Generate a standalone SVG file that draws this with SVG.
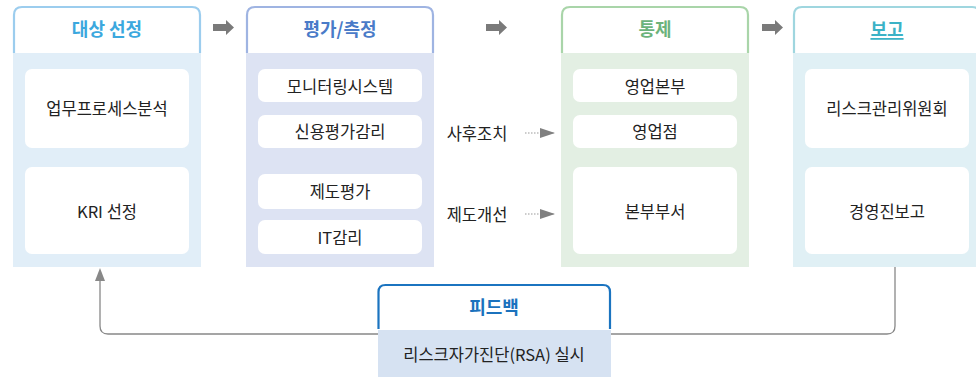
<svg xmlns="http://www.w3.org/2000/svg" width="976" height="377" viewBox="0 0 976 377">
<defs>
<style>
text{font-family:"Noto Sans CJK KR","Noto Sans",sans-serif;}
.item{font-size:16.5px;fill:#222;text-anchor:middle;dominant-baseline:central;}
.hd{font-size:18px;font-weight:bold;text-anchor:middle;dominant-baseline:central;}
.box{fill:#fff;}
.hb{fill:none;stroke-width:2.2;}
.conn{fill:none;stroke:#888;stroke-width:1.3;}
.dot{fill:none;stroke:#999;stroke-width:1.2;stroke-dasharray:1.5 1.5;}
.blk{fill:#7a7a7a;}
</style>
<marker id="tri2" viewBox="0 0 15 10" refX="15" refY="5" markerWidth="15" markerHeight="10" markerUnits="userSpaceOnUse" orient="auto">
<path d="M0,0 L15,5 L0,10 Z" fill="#808080"/>
</marker>
</defs>

<g id="connectors">
<path class="conn" d="M100,281 V326 Q100,334 108,334 H887 Q895,334 895,326 V267"/>
<polygon points="100,268 105,281 95,281" fill="#888"/>
<path class="dot" d="M525,133 H555" marker-end="url(#tri2)"/>
<path class="dot" d="M525,214 H555" marker-end="url(#tri2)"/>
<path class="blk" d="M213,24 H226 V20 L234,27.5 L226,35 V31 H213 Z"/>
<path class="blk" d="M486,24 H499 V20 L507,27.5 L499,35 V31 H486 Z"/>
<path class="blk" d="M762,24 H775 V20 L783,27.5 L775,35 V31 H762 Z"/>
</g>

<g id="col-target">
<rect x="13" y="53" width="188" height="214" fill="#e1eef8"/>
<path class="hb" stroke="#9ccdee" d="M14,53 V15 Q14,7 22,7 H192 Q200,7 200,15 V53"/>
<text class="hd" x="107" y="28" fill="#3ba8de">대상 선정</text>
<g id="n-process"><rect class="box" x="25" y="69" width="164" height="79" rx="7"/><text class="item" x="107" y="108">업무프로세스분석</text></g>
<g id="n-kri"><rect class="box" x="25" y="167" width="164" height="87" rx="7"/><text class="item" x="107" y="211">KRI 선정</text></g>
</g>

<g id="col-eval">
<rect x="246" y="53" width="188" height="214" fill="#dde3f3"/>
<path class="hb" stroke="#9fb4e2" d="M247,53 V15 Q247,7 255,7 H425 Q433,7 433,15 V53"/>
<text class="hd" x="340" y="28" fill="#4a7bc8">평가/측정</text>
<g id="n-monitor"><rect class="box" x="258" y="69" width="164" height="33" rx="7"/><text class="item" x="340" y="86">모니터링시스템</text></g>
<g id="n-credit"><rect class="box" x="258" y="115" width="164" height="33" rx="7"/><text class="item" x="340" y="131">신용평가감리</text></g>
<g id="n-system"><rect class="box" x="258" y="174" width="164" height="35" rx="7"/><text class="item" x="340" y="191">제도평가</text></g>
<g id="n-it"><rect class="box" x="258" y="220" width="164" height="34" rx="7"/><text class="item" x="340" y="237">IT감리</text></g>
</g>

<g id="lbl-after"><text class="item" x="477" y="133">사후조치</text></g>
<g id="lbl-improve"><text class="item" x="477" y="214">제도개선</text></g>

<g id="col-control">
<rect x="561" y="53" width="188" height="214" fill="#e3efe3"/>
<path class="hb" stroke="#a9d5a9" d="M562,53 V15 Q562,7 570,7 H740 Q748,7 748,15 V53"/>
<text class="hd" x="655" y="28" fill="#6cb37b">통제</text>
<g id="n-hq"><rect class="box" x="573" y="69" width="164" height="33" rx="7"/><text class="item" x="655" y="86">영업본부</text></g>
<g id="n-branch"><rect class="box" x="573" y="115" width="164" height="33" rx="7"/><text class="item" x="655" y="131">영업점</text></g>
<g id="n-dept"><rect class="box" x="573" y="167" width="164" height="87" rx="7"/><text class="item" x="655" y="211">본부부서</text></g>
</g>

<g id="col-report">
<rect x="793" y="53" width="188" height="214" fill="#e0f0f5"/>
<path class="hb" stroke="#9fd6df" d="M794,53 V15 Q794,7 802,7 H972 Q980,7 980,15 V53"/>
<text class="hd" x="887" y="28" fill="#3bb2c6" text-decoration="underline">보고</text>
<g id="n-committee"><rect class="box" x="805" y="69" width="164" height="79" rx="7"/><text class="item" x="887" y="108">리스크관리위원회</text></g>
<g id="n-mgmt"><rect class="box" x="805" y="167" width="164" height="87" rx="7"/><text class="item" x="887" y="211">경영진보고</text></g>
</g>

<g id="feedback">
<rect x="378" y="330" width="233" height="47" fill="#d6e2f2"/>
<path class="hb" stroke="#1b74c0" d="M378.5,329 V292 Q378.5,285 385.5,285 H603 Q610,285 610,292 V329"/>
<text class="hd" x="494" y="306" fill="#1b72bd">피드백</text>
<text class="item" x="494" y="354">리스크자가진단(RSA) 실시</text>
</g>
</svg>
